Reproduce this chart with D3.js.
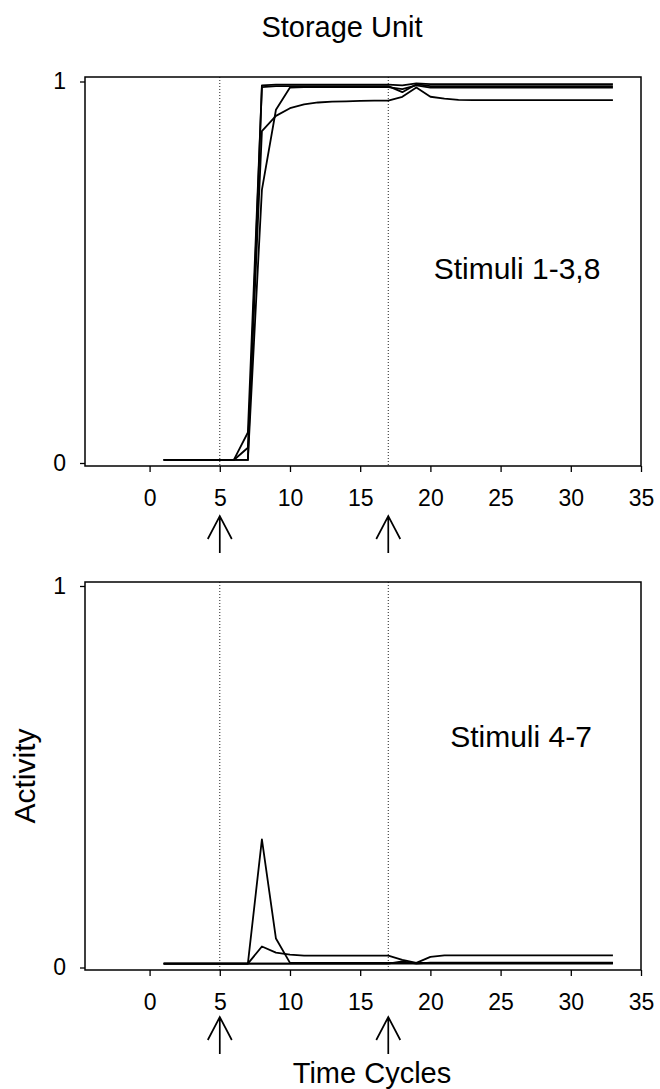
<!DOCTYPE html>
<html>
<head>
<meta charset="utf-8">
<script src="https://cdn.jsdelivr.net/npm/d3@7"></script>
<style>
  html, body { margin: 0; padding: 0; background: #fff; }
  svg { display: block; }
  text { font-family: "Liberation Sans", Arial, Helvetica, sans-serif; fill: #000; }
</style>
</head>
<body>
<script>
// Time cycles at which activity was recorded
const cycles = [1,2,3,4,5,6,7,8,9,10,11,12,13,14,15,16,17,18,19,20,21,22,23,24,25,26,27,28,29,30,31,32,33];

// Storage-unit activity for stimuli 1, 2, 3 and 8
const stim1 = [0.008,0.008,0.008,0.008,0.008,0.008,0.008,0.990,0.992,0.992,0.992,0.992,0.992,0.992,0.992,0.992,0.992,0.990,0.995,0.993,0.993,0.993,0.993,0.993,0.993,0.993,0.993,0.993,0.993,0.993,0.993,0.993,0.993];
const stim2 = [0.008,0.008,0.008,0.008,0.008,0.008,0.080,0.985,0.988,0.988,0.988,0.988,0.988,0.988,0.988,0.988,0.988,0.972,0.993,0.988,0.988,0.988,0.988,0.988,0.988,0.988,0.988,0.988,0.988,0.988,0.988,0.988,0.988];
const stim3 = [0.008,0.008,0.008,0.008,0.008,0.008,0.040,0.870,0.910,0.930,0.940,0.945,0.947,0.948,0.949,0.950,0.950,0.960,0.984,0.960,0.955,0.952,0.951,0.951,0.951,0.951,0.951,0.951,0.951,0.951,0.951,0.951,0.951];
const stim8 = [0.008,0.008,0.008,0.008,0.008,0.008,0.008,0.716,0.926,0.984,0.985,0.985,0.985,0.985,0.985,0.985,0.985,0.980,0.990,0.984,0.984,0.984,0.984,0.984,0.984,0.984,0.984,0.984,0.984,0.984,0.984,0.984,0.984];

// Storage-unit activity for stimuli 4 to 7
const stim4 = [0.010,0.010,0.010,0.010,0.010,0.010,0.010,0.336,0.076,0.012,0.012,0.012,0.012,0.012,0.012,0.012,0.012,0.012,0.012,0.012,0.012,0.012,0.012,0.012,0.012,0.012,0.012,0.012,0.012,0.012,0.012,0.012,0.012];
const stim5 = [0.010,0.010,0.010,0.010,0.010,0.010,0.010,0.055,0.039,0.034,0.031,0.031,0.031,0.031,0.031,0.031,0.031,0.020,0.012,0.028,0.032,0.032,0.032,0.032,0.032,0.032,0.032,0.032,0.032,0.032,0.032,0.032,0.032];
const stim6 = [0.010,0.010,0.010,0.010,0.010,0.010,0.010,0.010,0.010,0.010,0.010,0.010,0.010,0.010,0.010,0.010,0.010,0.016,0.010,0.013,0.013,0.013,0.013,0.013,0.013,0.013,0.013,0.013,0.013,0.013,0.013,0.013,0.013];
const stim7 = [0.010,0.010,0.010,0.010,0.010,0.010,0.010,0.010,0.010,0.010,0.010,0.010,0.010,0.010,0.010,0.010,0.010,0.010,0.010,0.010,0.010,0.010,0.010,0.010,0.010,0.010,0.010,0.010,0.010,0.010,0.010,0.010,0.010];

// Axis ticks, stimulus-onset markers and labels
const xTicks = [0,5,10,15,20,25,30,35];
const yTicks = [0,1];
const onsets = [5,17];
const panelLabels = ["Stimuli 1-3,8", "Stimuli 4-7"];
const title = "Storage Unit";
const xTitle = "Time Cycles";
const yTitle = "Activity";

const W = 660, H = 1089;
const svg = d3.select("body").append("svg").attr("width", W).attr("height", H);

const plotLeft = 85, plotRight = 641;
const x = d3.scaleLinear().domain([-4.6, 35]).range([plotLeft, plotRight]);

const panels = [
  { series: [stim1, stim2, stim3, stim8], label: panelLabels[0], top: 77, bottom: 466, y0: 463, y1: 81.5, labelPos: [517, 279], arrowTip: 516 },
  { series: [stim4, stim5, stim6, stim7], label: panelLabels[1], top: 582, bottom: 970, y0: 967.5, y1: 586, labelPos: [521, 747], arrowTip: 1017 }
];

svg.append("text").attr("x", 342).attr("y", 37).attr("text-anchor", "middle")
  .style("font-size", "29px").text(title);

panels.forEach(p => {
  const y = d3.scaleLinear().domain([0, 1]).range([p.y0, p.y1]);
  const g = svg.append("g");

  // onset markers as fine dotted verticals
  g.selectAll("line.onset").data(onsets).join("line")
    .attr("class", "onset")
    .attr("x1", d => x(d)).attr("x2", d => x(d))
    .attr("y1", p.top).attr("y2", p.bottom)
    .attr("stroke", "#222").attr("stroke-width", 1)
    .attr("stroke-dasharray", "1,2");

  // activity traces
  const line = d3.line().x((d, i) => x(cycles[i])).y(d => y(d));
  g.selectAll("path.trace").data(p.series).join("path")
    .attr("class", "trace")
    .attr("d", line)
    .attr("fill", "none").attr("stroke", "#000")
    .attr("stroke-width", 1.8).attr("stroke-linejoin", "round");

  // frame
  g.append("rect")
    .attr("x", plotLeft).attr("y", p.top)
    .attr("width", plotRight - plotLeft).attr("height", p.bottom - p.top)
    .attr("fill", "none").attr("stroke", "#000").attr("stroke-width", 1.5);

  // x axis
  const xa = g.append("g").attr("transform", `translate(0,${p.bottom})`)
    .call(d3.axisBottom(x).tickValues(xTicks).tickSize(6).tickPadding(18).tickFormat(d3.format("d")));
  xa.select(".domain").remove();
  xa.selectAll("line").attr("stroke", "#000").attr("stroke-width", 1.3);
  xa.selectAll("text").style("font-size", "23px").attr("fill", "#000")
    .style("font-family", "'Liberation Sans', Arial, sans-serif");

  // y axis
  const ya = g.append("g").attr("transform", `translate(${plotLeft},0)`)
    .call(d3.axisLeft(y).tickValues(yTicks).tickSize(5).tickPadding(14).tickFormat(d3.format("d")));
  ya.select(".domain").remove();
  ya.selectAll("line").attr("stroke", "#000").attr("stroke-width", 1.3);
  ya.selectAll("text").style("font-size", "23px").attr("fill", "#000")
    .style("font-family", "'Liberation Sans', Arial, sans-serif");

  // panel label
  g.append("text").attr("x", p.labelPos[0]).attr("y", p.labelPos[1])
    .attr("text-anchor", "middle").style("font-size", "30px").text(p.label);

  // onset arrows under the axis
  const tip = p.arrowTip;
  g.selectAll("path.arrow").data(onsets).join("path")
    .attr("class", "arrow")
    .attr("d", d => {
      const cx = x(d);
      return `M${cx},${tip + 37}L${cx},${tip}M${cx - 12},${tip + 23}L${cx},${tip}L${cx + 12},${tip + 23}`;
    })
    .attr("fill", "none").attr("stroke", "#000").attr("stroke-width", 1.7);
});

svg.append("text").attr("x", 372).attr("y", 1083).attr("text-anchor", "middle")
  .style("font-size", "29px").text(xTitle);

svg.append("text").attr("transform", "translate(35,776) rotate(-90)")
  .attr("text-anchor", "middle").style("font-size", "30px").text(yTitle);
</script>
</body>
</html>
